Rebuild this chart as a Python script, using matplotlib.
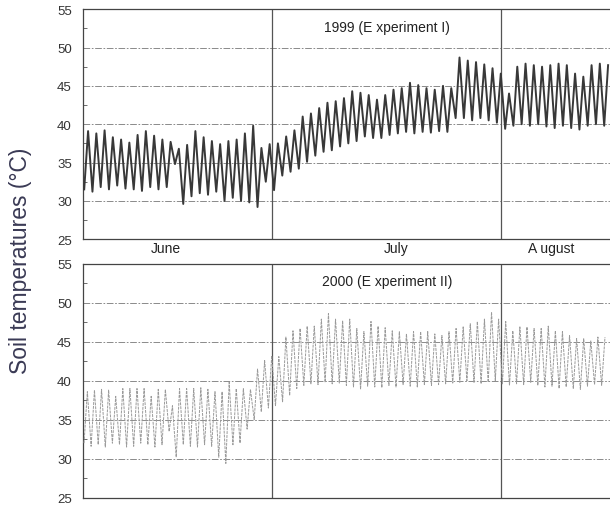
import numpy as np
import matplotlib
matplotlib.use('Agg')
import matplotlib.pyplot as plt

plt.rcParams['font.family'] = ['Liberation Sans', 'DejaVu Sans']

max_1999 = [39.1, 38.8, 39.2, 38.3, 38.0, 37.6, 38.6, 39.1, 38.5, 38.0, 37.7,
            36.8,
            37.3, 39.1, 38.3, 37.8, 37.4, 37.8, 38.0, 38.8, 39.8, 36.9, 37.4,
            37.5, 38.4, 39.2, 41.0, 41.4, 42.1, 42.8, 43.0, 43.4, 44.3, 44.1,
            43.8, 43.2, 43.8, 44.5, 44.7, 45.4, 45.1, 44.7, 44.5, 45.0,
            44.7,
            48.7, 48.3, 48.1, 47.8, 47.3, 46.6,
            44.0,
            47.5, 47.9, 47.7, 47.5, 47.7, 47.9, 47.7, 46.6, 46.2, 47.7, 47.9, 47.7]
min_1999 = [31.5, 31.2, 31.8, 31.5, 32.0, 31.6, 31.5, 31.3, 31.8, 31.5, 31.8,
            34.8,
            29.6, 30.6, 31.0, 30.8, 31.2, 30.0, 30.4, 30.0, 29.8, 29.2, 32.5,
            31.4, 33.3, 33.8, 34.2, 35.1, 35.9, 36.4, 36.6, 37.1, 37.5, 37.8,
            38.4, 38.2, 38.2, 38.6, 38.8, 39.0, 38.8, 39.0, 38.9, 39.1,
            39.0,
            40.8, 40.8, 40.5, 40.8, 40.5, 40.2,
            39.4,
            39.8, 40.0, 39.8, 40.0, 39.7, 39.5, 39.8, 39.5, 39.3, 39.8, 40.0, 39.8]

# daily max / min soil temperature, 2000 (Experiment II)
max_2000 = [38.6, 38.8, 38.9, 38.8, 38.0, 39.0, 39.0, 39.0, 39.0, 38.0, 38.9,
            38.9, 36.8, 39.0, 39.0, 39.0, 39.1, 38.9, 38.6, 38.6, 39.8, 39.0,
            39.0, 38.9, 41.5, 42.6, 43.2,
            43.1,
            45.6, 46.4, 46.7, 47.0, 47.0, 47.9, 48.6, 47.9, 47.7, 47.9, 46.7,
            46.3, 47.6, 47.0, 46.8, 46.4, 46.3, 46.0, 46.3, 46.3, 46.3, 46.0,
            45.8, 46.3, 46.7, 46.9, 47.3, 47.6, 47.9, 48.8, 47.9, 47.6, 46.4,
            46.9, 46.9, 46.7, 46.7, 47.0, 46.4, 46.3, 45.8, 45.4, 45.4, 45.1,
            45.6, 45.6]
min_2000 = [32.0, 31.6, 31.8, 31.5, 32.0, 31.8, 31.5, 31.6, 32.0, 31.8, 31.5,
            31.8, 33.5, 30.2, 31.8, 31.6, 31.5, 31.8, 31.6, 30.2, 29.4, 31.8,
            32.0,
            33.8, 35.0, 36.0, 36.5,
            36.8, 37.3, 38.1, 39.0, 39.4, 39.6, 39.5, 39.8, 39.6, 39.7, 39.4,
            39.2, 38.9, 39.3, 39.2, 39.1, 39.4, 39.2, 39.5, 39.3, 39.2, 39.5,
            39.4,
            39.5, 39.6, 39.7, 39.8, 40.0, 39.8, 39.6, 39.8, 40.0, 39.6, 39.4,
            39.6, 39.5, 39.8, 39.4, 39.2, 39.3, 39.0, 39.2, 39.0, 38.9, 39.3,
            39.5, 39.4]

yticks = [25, 30, 35, 40, 45, 50, 55]
months = ['June', 'July', 'A ugust']
titles = ['1999 (E xperiment I)', '2000 (E xperiment II)']


def daily_zigzag(tmax, tmin):
    # min early in the day, max in the afternoon
    days = np.arange(len(tmax))
    x = np.column_stack([days + 0.15, days + 0.62]).ravel()
    y = np.column_stack([tmin, tmax]).ravel()
    return x, y


fig = plt.figure(figsize=(6.1, 5.1), dpi=100)
ax1 = fig.add_axes([0.136, 0.529, 0.866, 0.451])
ax2 = fig.add_axes([0.136, 0.022, 0.866, 0.459])

panels = [
    (ax1, max_1999, min_1999, 64.0, (22.95, 50.6), '#383838', 1.4, '-'),
    (ax2, max_2000, min_2000, 74.5, (26.7, 58.95), '#9a9a9a', 0.7, (0, (3, 1))),
]

for i, (ax, tmax, tmin, xmax, bounds, col, lw, ls) in enumerate(panels):
    x, y = daily_zigzag(tmax, tmin)
    ax.plot(x, y, color=col, lw=lw, ls=ls, zorder=3)

    ax.set_xlim(0, xmax)
    ax.set_ylim(25, 55)
    ax.set_yticks(yticks)
    ax.set_yticks(np.arange(27.5, 55, 5), minor=True)
    ax.tick_params(axis='y', which='major', length=0, pad=8,
                   labelsize=9.5, labelcolor='#333333')
    ax.tick_params(axis='y', which='minor', direction='in', length=3,
                   color='#555555')

    # horizontal grid
    for t in yticks[1:-1]:
        ax.axhline(t, color='#777777', lw=0.6, ls=(0, (8, 2, 2, 2)), zorder=1)
    # month boundaries
    for b in bounds:
        ax.axvline(b, color='#555555', lw=0.9, zorder=2)

    for s in ['left', 'bottom', 'top']:
        ax.spines[s].set_color('#444444')
        ax.spines[s].set_linewidth(0.9)
    ax.spines['right'].set_visible(False)

    ax.text(0.575, 0.955, titles[i], transform=ax.transAxes, ha='center',
            va='top', fontsize=10, color='#222222')

# month names only under the upper panel
ax1.set_xticks([10.0, 37.9, 56.7])
ax1.set_xticklabels(months)
ax1.tick_params(axis='x', length=0, pad=1, labelsize=10, labelcolor='#222222')
ax2.set_xticks([])

fig.text(0.033, 0.488, 'Soil temperatures (°C)', rotation=90, ha='center',
         va='center', fontsize=16.5, color='#3a3a55')

plt.savefig('out.png', dpi=100)
